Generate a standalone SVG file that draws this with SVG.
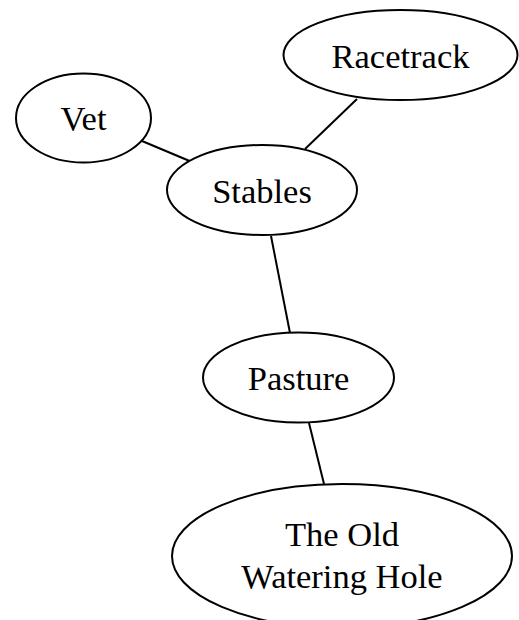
<svg xmlns="http://www.w3.org/2000/svg" width="519" height="620" viewBox="0 0 519 620">
<style>
.n ellipse{fill:#fff;stroke:#000;stroke-width:2}
.n text{font-family:"Liberation Serif","Times New Roman",serif;font-size:34.5px;fill:#000;text-anchor:middle}
#edges line{stroke:#000;stroke-width:2}
</style>
<rect width="519" height="620" fill="#fff"/>
<g id="edges">
<line x1="142" y1="141" x2="192" y2="162"/>
<line x1="357" y1="99" x2="305" y2="149"/>
<line x1="271" y1="236" x2="290" y2="333"/>
<line x1="309" y1="423" x2="324" y2="484"/>
</g>
<g id="racetrack" class="n"><ellipse cx="400.5" cy="55" rx="117" ry="45"/><text x="400.5" y="68">Racetrack</text></g>
<g id="vet" class="n"><ellipse cx="83.5" cy="118" rx="67.5" ry="44.5"/><text x="83.5" y="130">Vet</text></g>
<g id="stables" class="n"><ellipse cx="262" cy="190" rx="95" ry="45"/><text x="262" y="203">Stables</text></g>
<g id="pasture" class="n"><ellipse cx="298.5" cy="377.5" rx="95.5" ry="45"/><text x="298.5" y="390">Pasture</text></g>
<g id="wateringhole" class="n"><ellipse cx="342" cy="556" rx="170" ry="72"/><text x="342" y="546">The Old</text><text x="342" y="588">Watering Hole</text></g>
</svg>
